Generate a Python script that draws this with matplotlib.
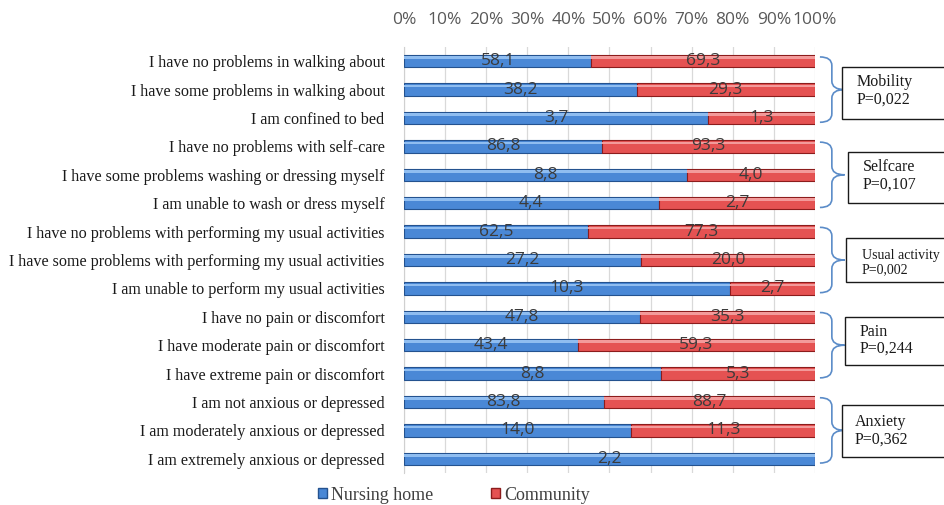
import numpy as np
import matplotlib
matplotlib.use("Agg")
import matplotlib.pyplot as plt
from matplotlib.path import Path
from matplotlib.patches import PathPatch, Rectangle, Patch
from matplotlib.transforms import blended_transform_factory

# ---- data ----
items = [
    "I have no problems in walking about",
    "I have some problems in walking about",
    "I am confined to bed",
    "I have no problems with self-care",
    "I have some problems washing or dressing myself",
    "I am unable to wash or dress myself",
    "I have no problems with performing my usual activities",
    "I have some problems with performing my usual activities",
    "I am unable to perform my usual activities",
    "I have no pain or discomfort",
    "I have moderate pain or discomfort",
    "I have extreme pain or discomfort",
    "I am not anxious or depressed",
    "I am moderately anxious or depressed",
    "I am extremely anxious or depressed",
]
nursing_home = [58.1, 38.2, 3.7, 86.8, 8.8, 4.4, 62.5, 27.2, 10.3, 47.8, 43.4, 8.8, 83.8, 14.0, 2.2]
community = [69.3, 29.3, 1.3, 93.3, 4.0, 2.7, 77.3, 20.0, 2.7, 35.3, 59.3, 5.3, 88.7, 11.3, 0.0]
groups = ["Mobility", "Selfcare", "Usual activity", "Pain", "Anxiety"]
p_values = ["P=0,022", "P=0,107", "P=0,002", "P=0,244", "P=0,362"]
ticks = [0, 10, 20, 30, 40, 50, 60, 70, 80, 90, 100]
# --------------

W, H = 945, 505
BLUE, BLUE_EDGE = "#4a88d6", "#24528f"
RED, RED_EDGE = "#e55252", "#8c1c1c"
SERIF = "Liberation Serif"

nh = np.array(nursing_home)
cm = np.array(community)
tot = nh + cm
nh_pct = nh / tot * 100
cm_pct = cm / tot * 100
y = np.arange(len(items))

fig = plt.figure(figsize=(W / 100, H / 100), dpi=100)
ax = fig.add_axes([404 / W, 1 - 473 / H, 411 / W, 426 / H])

bh = 0.44
ax.barh(y, nh_pct, height=bh, color=BLUE, edgecolor=BLUE_EDGE, linewidth=0.8, zorder=3)
ax.barh(y, cm_pct, left=nh_pct, height=bh, color=RED, edgecolor=RED_EDGE, linewidth=0.8, zorder=3)
# bevel highlight strip
ax.barh(y - bh * 0.28, nh_pct, height=bh * 0.2, color="#8fbdf0", linewidth=0, zorder=4)
ax.barh(y - bh * 0.28, cm_pct, left=nh_pct, height=bh * 0.2, color="#f39a9a", linewidth=0, zorder=4)

for i in range(len(items)):
    ax.text(nh_pct[i] / 2, y[i], f"{nh[i]:.1f}".replace(".", ","), ha="center", va="center",
            fontsize=12.5, color="#3b3b3b", family="Open Sans", zorder=5)
    if cm[i] > 0:
        ax.text(nh_pct[i] + cm_pct[i] / 2, y[i], f"{cm[i]:.1f}".replace(".", ","), ha="center",
                va="center", fontsize=12.5, color="#3b3b3b", family="Open Sans", zorder=5)

ax.set_xlim(0, 100)
ax.set_ylim(len(items) - 0.5, -0.5)
ax.set_xticks(ticks)
ax.set_xticklabels([f"{t}%" for t in ticks], family="Open Sans", fontsize=12.5, color="#595959")
ax.xaxis.tick_top()
ax.tick_params(axis="x", length=0, pad=14)
ax.set_yticks(y)
ax.set_yticklabels(items, family=SERIF, fontsize=11.6, color="#1a1a1a")
ax.tick_params(axis="y", length=0, pad=14)
ax.grid(axis="x", color="#d9d9d9", linewidth=0.9, zorder=0)
for s in ["top", "right", "bottom"]:
    ax.spines[s].set_visible(False)
ax.spines["left"].set_color("#d0d0d0")

# curly braces
tr = blended_transform_factory(ax.transAxes, ax.transData)
xe, xv, xt = 1.012, 1.041, 1.072
r = 0.3
for g in range(len(groups)):
    mid = 3 * g + 1
    top, bot = mid - 1.15, mid + 1.15
    verts = [(xe, top), (xv, top), (xv, top + r),
             (xv, mid - r), (xv, mid), (xt, mid),
             (xv, mid), (xv, mid + r),
             (xv, bot - r), (xv, bot), (xe, bot)]
    codes = [Path.MOVETO, Path.CURVE3, Path.CURVE3,
             Path.LINETO, Path.CURVE3, Path.CURVE3,
             Path.CURVE3, Path.CURVE3,
             Path.LINETO, Path.CURVE3, Path.CURVE3]
    ax.add_patch(PathPatch(Path(verts, codes), transform=tr, fill=False,
                           edgecolor="#5b8cc8", linewidth=1.2, clip_on=False))

# group boxes (pixel positions)
boxes = [(842, 67, 119, 857, 82, 100, 11.5),
         (848, 152, 203, 863, 167, 185, 11.5),
         (846, 238, 282, 862, 255, 270, 10),
         (845, 317, 365, 860, 332, 349, 11.5),
         (842, 405, 457, 855, 422, 440, 11.5)]
for (bx, btop, bbot, tx, ty1, ty2, fs), name, p in zip(boxes, groups, p_values):
    fig.patches.append(Rectangle((bx / W, 1 - bbot / H), 200 / W, (bbot - btop) / H,
                                 transform=fig.transFigure, facecolor="white",
                                 edgecolor="#1a1a1a", linewidth=1.0))
    fig.text(tx / W, 1 - ty1 / H, name, family=SERIF, fontsize=fs, va="center", color="#1a1a1a")
    fig.text(tx / W, 1 - ty2 / H, p, family=SERIF, fontsize=fs, va="center", color="#1a1a1a")

handles = [Patch(facecolor=BLUE, edgecolor=BLUE_EDGE, label="Nursing home"),
           Patch(facecolor=RED, edgecolor=RED_EDGE, label="Community")]
leg = fig.legend(handles=handles, loc="center", bbox_to_anchor=(454 / W, 1 - 495 / H), ncol=2,
                 frameon=False, prop={"family": SERIF, "size": 13}, handlelength=0.5,
                 handleheight=0.5, handletextpad=0.25, columnspacing=3.2, labelcolor="#404040")

fig.savefig("out.png", dpi=100)
